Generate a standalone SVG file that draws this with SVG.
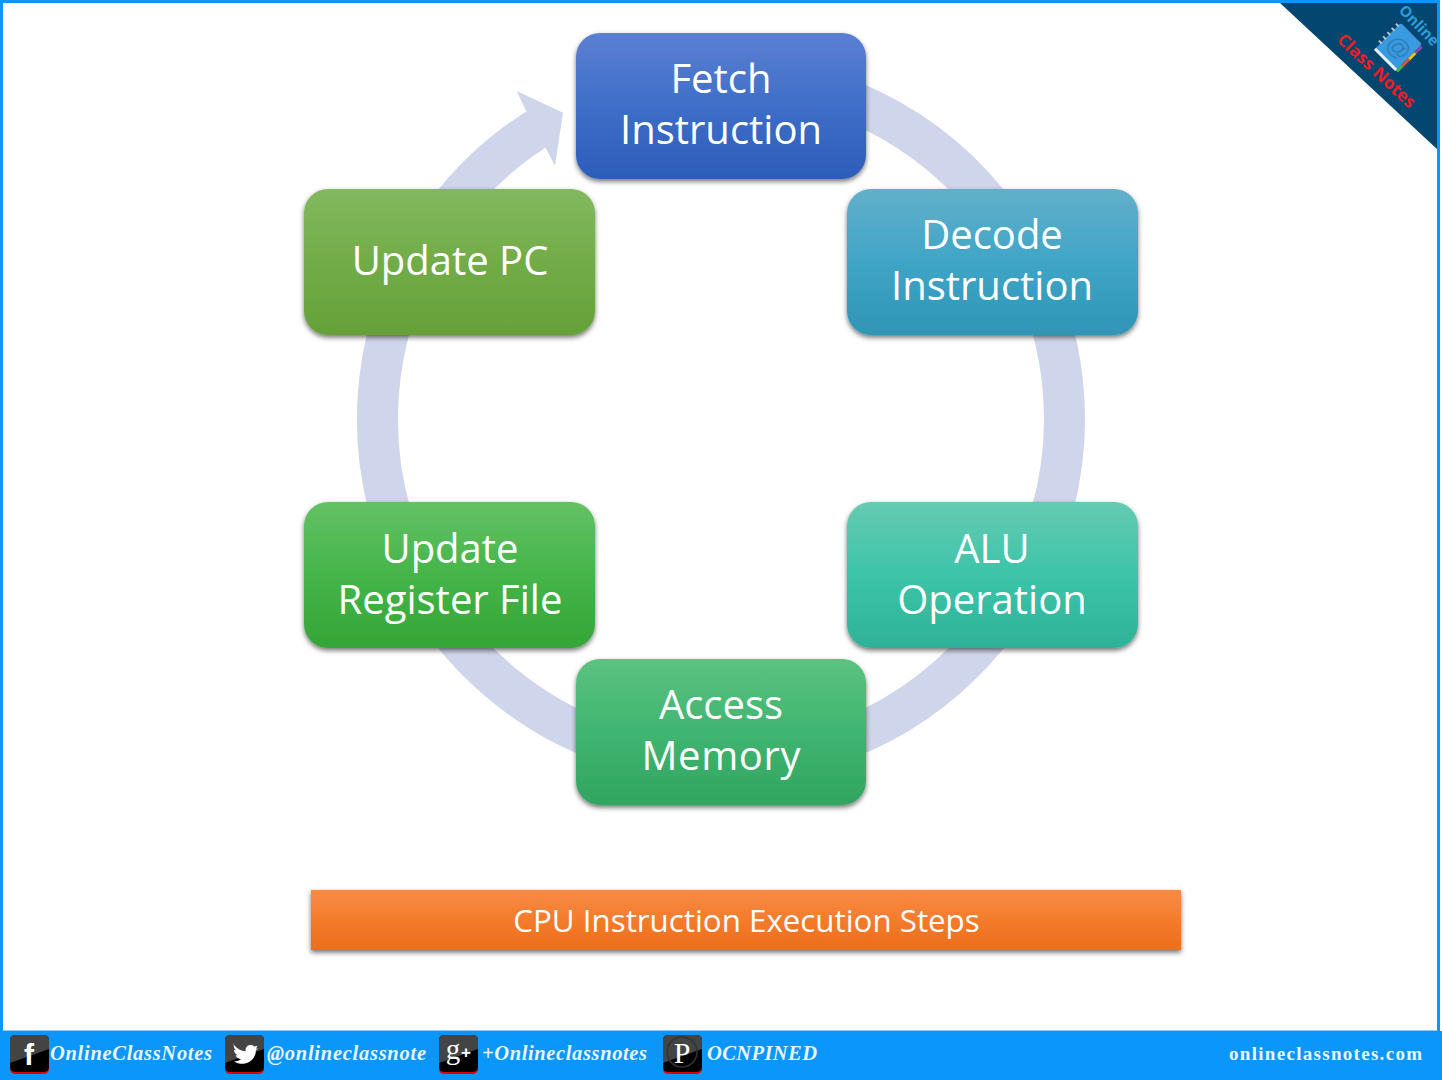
<svg xmlns="http://www.w3.org/2000/svg" width="1442" height="1080" viewBox="0 0 1442 1080">
<style>
.lbl{font-family:"Open Sans","Noto Sans",sans-serif;font-size:40px;fill:#fff;text-anchor:middle}
.soc{font-family:"Liberation Serif",serif;font-style:italic;font-weight:bold;font-size:20.5px;fill:#e8f4ff}
.ico{font-family:"Liberation Sans",sans-serif;font-weight:bold;fill:#fff;text-anchor:middle}
.node{filter:url(#sh)}
</style>
<defs>
<filter id="sh" x="-10%" y="-10%" width="120%" height="125%"><feDropShadow dx="0" dy="2.5" stdDeviation="2.5" flood-color="#000" flood-opacity=".55"/></filter>
<linearGradient id="gF" x1="0" y1="0" x2="0" y2="1"><stop offset="0" stop-color="#5b80d2"/><stop offset=".5" stop-color="#3f6ec8"/><stop offset="1" stop-color="#2c5cb9"/></linearGradient>
<linearGradient id="gD" x1="0" y1="0" x2="0" y2="1"><stop offset="0" stop-color="#63afca"/><stop offset=".5" stop-color="#3fa5c7"/><stop offset="1" stop-color="#2f95b6"/></linearGradient>
<linearGradient id="gA" x1="0" y1="0" x2="0" y2="1"><stop offset="0" stop-color="#65cbb1"/><stop offset=".5" stop-color="#3cc4a9"/><stop offset="1" stop-color="#2eb298"/></linearGradient>
<linearGradient id="gM" x1="0" y1="0" x2="0" y2="1"><stop offset="0" stop-color="#5cc280"/><stop offset=".5" stop-color="#40b571"/><stop offset="1" stop-color="#30a55f"/></linearGradient>
<linearGradient id="gR" x1="0" y1="0" x2="0" y2="1"><stop offset="0" stop-color="#63c165"/><stop offset=".5" stop-color="#45b54a"/><stop offset="1" stop-color="#34a537"/></linearGradient>
<linearGradient id="gP" x1="0" y1="0" x2="0" y2="1"><stop offset="0" stop-color="#82b95f"/><stop offset=".5" stop-color="#72ac48"/><stop offset="1" stop-color="#65a138"/></linearGradient>
<linearGradient id="gB" x1="0" y1="0" x2="0" y2="1"><stop offset="0" stop-color="#f68b45"/><stop offset=".5" stop-color="#f47b2c"/><stop offset="1" stop-color="#ec6e1b"/></linearGradient>
<g id="iconBase">
<rect x="0" y="1" width="39" height="38" rx="5" fill="#e00000"/>
<rect x="0" y="0" width="39" height="37" rx="5" fill="#000"/>
<path d="M0 5a5 5 0 0 1 5-5h29a5 5 0 0 1 5 5v9L0 28z" fill="#444"/>
</g>
</defs>

<rect id="page" x="0" y="0" width="1442" height="1080" fill="#fff"/>

<g id="connectors" fill="none">
<path d="M721 75.5A343.5 343.5 0 1 1 545 124" stroke="#cfd5ea" stroke-width="41"/>
<polygon points="516.7,91 563,112.7 555,165.7 545,146.7 526,110.7" fill="#cfd5ea"/>
</g>

<g id="node-fetch"><rect class="node" x="576" y="33" width="290" height="146" rx="24" fill="url(#gF)"/><text class="lbl" x="721" y="93">Fetch</text><text class="lbl" x="721" y="144">Instruction</text></g>
<g id="node-decode"><rect class="node" x="847" y="189" width="291" height="146" rx="24" fill="url(#gD)"/><text class="lbl" x="992" y="249">Decode</text><text class="lbl" x="992" y="300">Instruction</text></g>
<g id="node-alu"><rect class="node" x="847" y="502" width="291" height="146" rx="24" fill="url(#gA)"/><text class="lbl" x="992" y="563">ALU</text><text class="lbl" x="992" y="614">Operation</text></g>
<g id="node-memory"><rect class="node" x="576" y="659" width="290" height="146" rx="24" fill="url(#gM)"/><text class="lbl" x="721" y="719">Access</text><text class="lbl" x="721" y="770" textLength="159" lengthAdjust="spacing">Memory</text></g>
<g id="node-register"><rect class="node" x="304" y="502" width="291" height="146" rx="24" fill="url(#gR)"/><text class="lbl" x="450" y="563">Update</text><text class="lbl" x="450" y="614">Register File</text></g>
<g id="node-pc"><rect class="node" x="304" y="189" width="291" height="146" rx="24" fill="url(#gP)"/><text class="lbl" x="450" y="275">Update PC</text></g>

<g id="banner"><rect x="311" y="890" width="870" height="60" fill="url(#gB)" filter="url(#sh)"/><text x="746.5" y="932" font-family="'Open Sans','Noto Sans',sans-serif" font-size="31.3" fill="#fff" text-anchor="middle">CPU Instruction Execution Steps</text></g>

<g id="logo">
<polygon points="1280,3 1438,150 1438,3" fill="#03466f"/>
<g transform="translate(1398,47) rotate(45)">
<rect x="-15" y="-19" width="30" height="38" rx="2" fill="#3a9ae0"/>
<rect x="-15" y="16" width="30" height="3" fill="#e8f2f8"/>
<rect x="15" y="-17" width="3" height="9" fill="#8e44ad"/><rect x="15" y="-8" width="3" height="9" fill="#e8c020"/><rect x="15" y="1" width="3" height="9" fill="#e05030"/><rect x="15" y="10" width="3" height="8" fill="#50b050"/>
<text x="1" y="8" text-anchor="middle" font-family="'Liberation Sans',sans-serif" font-size="24" fill="#2f7fbd">@</text>
<path d="M-18 -15h4M-18 -9h4M-18 -3h4M-18 3h4M-18 9h4" stroke="#b9c4cc" stroke-width="2" fill="none"/>
</g>
<text transform="translate(1398,11) rotate(46)" font-family="'Open Sans',sans-serif" font-weight="bold" font-size="15" fill="#2a9fdb" textLength="50" lengthAdjust="spacingAndGlyphs">Online</text>
<text transform="translate(1336,41) rotate(43)" font-family="'Open Sans',sans-serif" font-weight="bold" font-size="17" fill="#ee1c25" textLength="100" lengthAdjust="spacingAndGlyphs">Class Notes</text>
</g>

<g id="footer">
<rect x="0" y="1030" width="1440" height="1" fill="#8cc8f8"/>
<rect x="0" y="1031" width="1442" height="49" fill="#0a96fb"/>
<rect x="1.5" y="1.5" width="1437" height="1078" fill="none" stroke="#0a96fb" stroke-width="3"/>
</g>
<g id="social-fb"><use href="#iconBase" x="10" y="1035"/><text class="ico" x="29" y="1065" font-size="30">f</text><text class="soc" x="50" y="1060" textLength="162" lengthAdjust="spacing">OnlineClassNotes</text></g>
<g id="social-tw"><use href="#iconBase" x="225" y="1035"/><path transform="translate(234,1045) scale(.78) translate(-234,-1044)" d="M234 1044c4 5 9 8 15 8-1-5 3-9 7-8 2 0 3 1 4 2l4-1-2 4 3-1-3 3c0 10-8 17-17 17-4 0-8-1-11-3 4 0 7-1 9-3-3 0-6-2-7-5h3c-3-1-5-4-5-7l3 1c-3-2-4-6-3-10z" fill="#fff"/><text class="soc" x="267" y="1060" textLength="159" lengthAdjust="spacing">@onlineclassnote</text></g>
<g id="social-gp"><use href="#iconBase" x="439" y="1035"/><text class="ico" x="453" y="1059" font-size="29" style="font-family:'Liberation Serif',serif;font-weight:normal">g</text><text class="ico" x="466" y="1058" font-size="17">+</text><text class="soc" x="482" y="1060" textLength="165" lengthAdjust="spacing">+Onlineclassnotes</text></g>
<g id="social-pin"><use href="#iconBase" x="663" y="1035"/><circle cx="682" cy="1052" r="15" fill="none" stroke="#333" stroke-width="1.5"/><text class="ico" x="682" y="1063" font-size="30" style="font-family:'Liberation Serif',serif;font-weight:normal">P</text><text class="soc" x="707" y="1060" textLength="110" lengthAdjust="spacing">OCNPINED</text></g>
<text id="site" x="1229" y="1060" font-family="'Liberation Serif',serif" font-weight="bold" font-size="19" fill="#e8f4ff" textLength="193" lengthAdjust="spacing">onlineclassnotes.com</text>
</svg>
